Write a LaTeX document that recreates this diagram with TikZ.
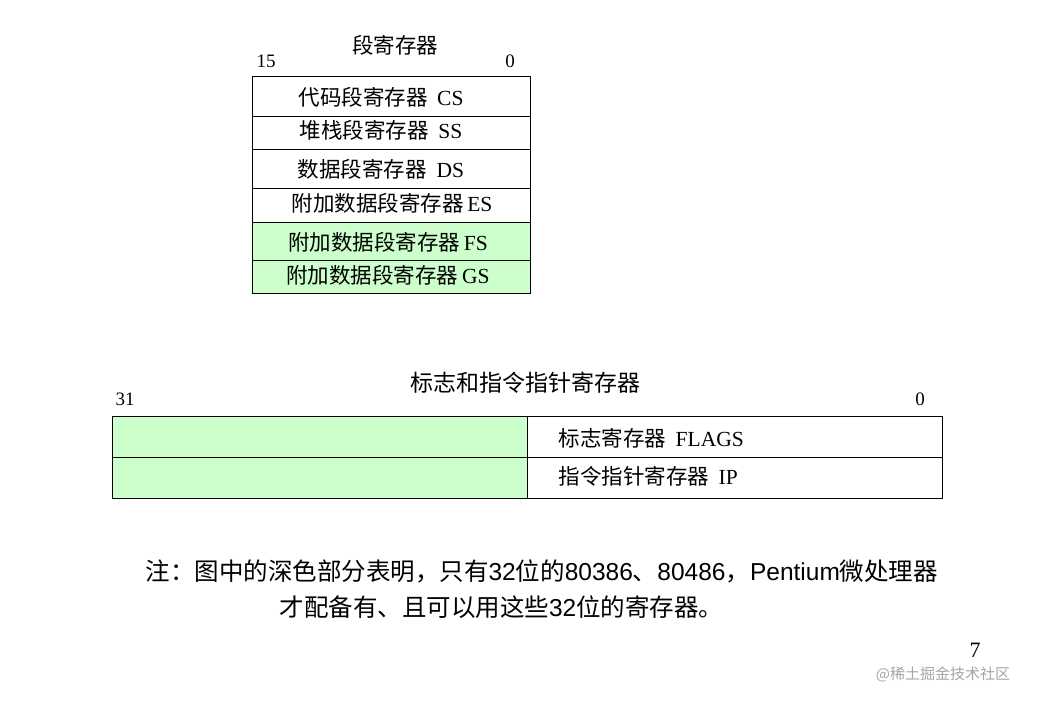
\documentclass[tikz,border=0pt]{standalone}
\usepackage{fontspec}
\setmainfont{Liberation Serif}
\newfontfamily\cjk{Noto Sans CJK SC}
\newfontfamily\ssf{Liberation Sans}
\definecolor{lg}{HTML}{CCFFCC}
\begin{document}
\begin{tikzpicture}[x=1pt,y=-1pt,
  rowtxt/.style={font=\fontsize{21.5}{22}\selectfont},
  numtxt/.style={font=\fontsize{19}{22}\selectfont},
  box/.style={draw,line width=1pt}]
\useasboundingbox[fill=white] (0,0) rectangle (1043,702);
% top
\fill[lg] (252,222) rectangle (530,293);
\draw[box] (252,76) rectangle (530,293);
\foreach \y in {116,149,188,222,260} \draw[line width=0.9pt] (252,\y) -- (530,\y);
\node[rowtxt] (t0) at (395,45) {\cjk 段寄存器};
\node[numtxt] (n15) at (266,61) {15};
\node[numtxt] (n0a) at (510,61) {0};
\node[rowtxt] (r1) at (381,97) {\cjk 代码段寄存器\ \ \normalfont CS};
\node[rowtxt] (r2) at (381,130) {\cjk 堆栈段寄存器\ \ \normalfont SS};
\node[rowtxt] (r3) at (381,169) {\cjk 数据段寄存器\ \ \normalfont DS};
\node[rowtxt] (r4) at (392,203) {\cjk 附加数据段寄存器\,\normalfont ES};
\node[rowtxt] (r5) at (388,242) {\cjk 附加数据段寄存器\,\normalfont FS};
\node[rowtxt] (r6) at (388,275) {\cjk 附加数据段寄存器\,\normalfont GS};
% bottom
\fill[lg] (112,416) rectangle (527,498);
\draw[box] (112,416) rectangle (942,498);
\draw[line width=0.9pt] (112,457) -- (942,457);
\draw[line width=0.9pt] (527,416) -- (527,498);
\node[font=\fontsize{23}{24}\selectfont] (t1) at (525,383) {\cjk 标志和指令指针寄存器};
\node[numtxt] (n31) at (125,399) {31};
\node[numtxt] (n0b) at (920,399) {0};
\node[rowtxt,anchor=west] (f1) at (555,438) {\cjk 标志寄存器\ \ \normalfont FLAGS};
\node[rowtxt,anchor=west] (f2) at (555,476) {\cjk 指令指针寄存器\ \ \normalfont IP};
% note
\node[anchor=west,font=\fontsize{24.5}{26}\selectfont] (note1) at (142,571) {\cjk 注：图中的深色部分表明，只有\ssf 32\cjk 位的\ssf 80386\cjk 、\ssf 80486\cjk ，\ssf Pentium\cjk 微处理器};
\node[anchor=west,font=\fontsize{24.5}{26}\selectfont] (note2) at (276,607) {\cjk 才配备有、且可以用这些\ssf 32\cjk 位的寄存器。};
\node[font=\fontsize{22}{24}\selectfont] (pg) at (975,650) {7};
\node[font=\fontsize{15}{18}\selectfont,text=gray!70] (wm) at (943,674) {\cjk @稀土掘金技术社区};
\end{tikzpicture}
\end{document}
